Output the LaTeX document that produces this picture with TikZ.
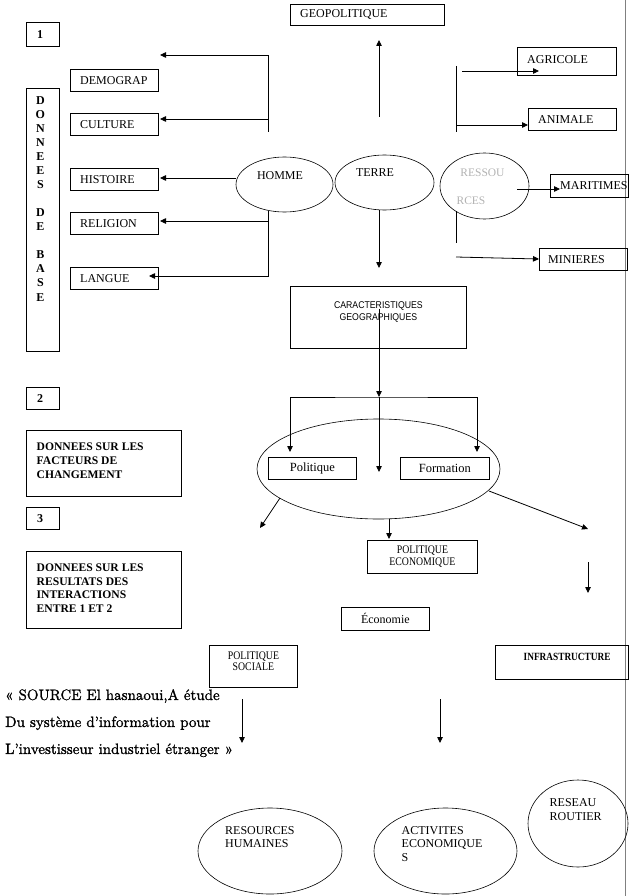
\documentclass[tikz,border=0pt]{standalone}
\usepackage{fontspec}
\newfontfamily\tnr{Liberation Serif}
\newfontfamily\tnrnarrow[FakeStretch=0.845]{Liberation Serif}
\newfontfamily\arialnarrow[FakeStretch=0.89]{Liberation Sans}
\newfontfamily\srcfont[FakeBold=1.2]{lmroman10-regular.otf}
\usetikzlibrary{arrows.meta,shapes.geometric}

\tikzset{
	every node/.style={font=\tnr\fontsize{12}{14}\selectfont},
	frame/.style={draw, rectangle, anchor=north west, inner sep=0pt, line width=0.8pt},
	ell/.style={draw, ellipse, inner sep=0pt, line width=0.6pt},
	intext/.style={anchor=west, inner sep=0pt, xshift=#1},
	intext/.default=10pt,
	toptext/.style={anchor=north west, inner sep=0pt, align=left},
	arr/.style={line width=0.8pt, -{Triangle[length=6pt,width=5.5pt]}},
	arrboth/.style={line width=0.8pt, {Triangle[length=6pt,width=5.5pt]}-{Triangle[length=6pt,width=5.5pt]}},
}

\begin{document}
\begin{tikzpicture}[x=1pt, y=-1pt]

	\useasboundingbox (0,0) rectangle (629,896);

	% ---- page edge

	\draw[gray, line width=0.8pt] (625.5,0) -- (625.5,896);

	% ---- section frames

	\node[frame, minimum width=33pt, minimum height=24pt,
		label={[intext=11pt, font=\tnr\bfseries\fontsize{12}{14}\selectfont]west:1}] (one) at (26,22) {};
	\node[frame, minimum width=33pt, minimum height=263pt,
		label={[anchor=north, inner sep=0pt, xshift=-2.5pt, yshift=-8pt, align=center,
			font=\tnr\bfseries\fontsize{12}{14.07}\selectfont]north:D\\O\\N\\N\\E\\E\\S\\[14.07pt]D\\E\\[14.07pt]B\\A\\S\\E}] (base) at (26,88) {};
	\node[frame, minimum width=33pt, minimum height=22pt,
		label={[intext=11pt, font=\tnr\bfseries\fontsize{12}{14}\selectfont]west:2}] (two) at (26,387) {};
	\node[frame, minimum width=154.5pt, minimum height=66pt,
		label={[toptext, xshift=10.5pt, yshift=-13pt, font=\tnr\bfseries\fontsize{11.6}{13.7}\selectfont]north west:DONNEES SUR LES\\FACTEURS DE\\CHANGEMENT}] (facteurs) at (26,430) {};
	\node[frame, minimum width=33pt, minimum height=22pt,
		label={[intext=11pt, font=\tnr\bfseries\fontsize{12}{14}\selectfont]west:3}] (three) at (26,507) {};
	\node[frame, minimum width=154.5pt, minimum height=77pt,
		label={[toptext, xshift=10.5pt, yshift=-12.7pt, font=\tnr\bfseries\fontsize{11.6}{13.7}\selectfont]north west:DONNEES SUR LES\\RESULTATS DES\\INTERACTIONS\\ENTRE 1 ET 2}] (resultats) at (26,551) {};

	% ---- homme side

	\node[frame, minimum width=88pt, minimum height=22pt, label={[intext]west:DEMOGRAP}] (demograp) at (70,69) {};
	\node[frame, minimum width=88pt, minimum height=22pt, label={[intext]west:CULTURE}] (culture) at (70,113) {};
	\node[frame, minimum width=88pt, minimum height=22pt, label={[intext]west:HISTOIRE}] (histoire) at (70,168) {};
	\node[frame, minimum width=88pt, minimum height=22pt, label={[intext]west:RELIGION}] (religion) at (70,212) {};
	\node[frame, minimum width=88pt, minimum height=22pt, label={[intext]west:LANGUE}] (langue) at (70,267) {};

	% ---- ressources side

	\node[frame, minimum width=154pt, minimum height=21pt, label={[intext]west:GEOPOLITIQUE}] (geopol) at (290,4) {};
	\node[frame, minimum width=99pt, minimum height=28pt, label={[intext, yshift=1.5pt]west:AGRICOLE}] (agricole) at (517,47) {};
	\node[frame, minimum width=88pt, minimum height=22pt, label={[intext]west:ANIMALE}] (animale) at (528,108) {};
	\node[frame, minimum width=78pt, minimum height=23pt, label={[intext]west:MARITIMES}] (maritimes) at (550,174) {};
	\node[frame, minimum width=88pt, minimum height=22pt, label={[intext=9pt]west:MINIERES}] (minieres) at (539,248) {};

	% ---- ellipses of the base

	\node[ell, minimum width=97pt, minimum height=55pt,
		label={[inner sep=0pt, xshift=-4.5pt, yshift=8.5pt]center:HOMME}] (homme) at (284.5,184.5) {};
	\node[ell, minimum width=99pt, minimum height=55pt,
		label={[inner sep=0pt, xshift=-9.5pt, yshift=10pt]center:TERRE}] (terre) at (384.5,182.5) {};
	\node[ell, minimum width=89pt, minimum height=66pt,
		label={[inner sep=0pt, xshift=-2pt, yshift=13pt, text=gray!60, font=\tnr\fontsize{11.5}{14}\selectfont]center:RESSOU},
		label={[inner sep=0pt, xshift=-13.5pt, yshift=-15pt, text=gray!60, font=\tnr\fontsize{11.5}{14}\selectfont]center:RCES}] (ressources) at (484.5,186) {};

	% ---- middle part

	\node[frame, minimum width=176pt, minimum height=62pt,
		label={[anchor=north, inner sep=0pt, yshift=-15pt, align=center, font=\arialnarrow\fontsize{9.8}{12}\selectfont]north:CARACTERISTIQUES\\GEOGRAPHIQUES}] (carac) at (290,286) {};

	\node[ell, minimum width=243pt, minimum height=100pt] (facteur) at (378.5,469) {};

	\node[frame, minimum width=88pt, minimum height=22pt, font=\tnr\fontsize{12.5}{14}\selectfont] (politique) at (268,457) {Politique};
	\node[frame, minimum width=89pt, minimum height=22pt, font=\tnr\fontsize{12.5}{14}\selectfont] (formation) at (400,457) {Formation};

	\node[frame, minimum width=110pt, minimum height=33pt, align=center,
		font=\tnrnarrow\fontsize{11.6}{12}\selectfont] (polecon) at (367,540) {POLITIQUE\\ECONOMIQUE};
	\node[frame, minimum width=88pt, minimum height=23pt] (economie) at (341,607) {Économie};
	\node[frame, minimum width=88pt, minimum height=42pt,
		label={[anchor=north, inner sep=0pt, yshift=-7pt, align=center, font=\tnrnarrow\fontsize{11.6}{10.7}\selectfont]north:POLITIQUE\\SOCIALE}] (polsoc) at (209,645) {};
	\node[frame, minimum width=133pt, minimum height=34pt,
		label={[toptext, xshift=28.5pt, yshift=-7.7pt, font=\tnrnarrow\bfseries\fontsize{11}{13}\selectfont]north west:INFRASTRUCTURE}] (infra) at (495,645) {};

	% ---- results

	\node[ell, minimum width=144pt, minimum height=86pt] (reshum) at (270,851) {};
	\node[ell, minimum width=143pt, minimum height=86pt] (activites) at (445.5,851) {};
	\node[ell, minimum width=100pt, minimum height=87pt] (reseau) at (578,823.5) {};

	\node[toptext, font=\tnr\fontsize{12}{13.5}\selectfont] (reshumtxt) at (225,826) {RESOURCES\\HUMAINES};
	\node[toptext, font=\tnr\fontsize{12}{13.5}\selectfont] (activtxt) at (401.5,826) {ACTIVITES\\ECONOMIQUE\\S};
	\node[toptext, font=\tnr\fontsize{12}{14}\selectfont] (reseautxt) at (549.5,798.7) {RESEAU\\ROUTIER};

	% ---- source

	\node[toptext, font=\srcfont\fontsize{15}{27}\selectfont] (source) at (5,689)
		{« SOURCE El hasnaoui,A étude\\Du système d’information pour\\L’investisseur industriel étranger »};

	% ---- connector ends

	\coordinate (hbarT) at (268,132);
	\coordinate (hbarS) at (268,210.5);
	\coordinate (hdem) at (160,55);
	\coordinate (hcul) at (160,119);
	\coordinate (hhis) at (160,178);
	\coordinate (hrel) at (160,221);
	\coordinate (hlan) at (149,276);

	\coordinate (tup1) at (379,117);
	\coordinate (tup2) at (379,40);
	\coordinate (tdown) at (379,268);

	\coordinate (rbarT) at (456,66);
	\coordinate (rbarB) at (456,132);
	\coordinate (ragr1) at (462,71);
	\coordinate (ragr2) at (539,71);
	\coordinate (rani) at (528,125);
	\coordinate (rmar1) at (517,189);
	\coordinate (rmar2) at (560,189);
	\coordinate (rbar2T) at (456,211.3);
	\coordinate (rbar2B) at (456,243);
	\coordinate (rmin1) at (456,257);
	\coordinate (rmin2) at (539,259);

	\coordinate (cstart) at (379,309);
	\coordinate (cmid) at (379,397);
	\coordinate (cend) at (379,472);
	\coordinate (brL) at (290,452);
	\coordinate (brR) at (477,452);

	\coordinate (fsw1) at (280,498);
	\coordinate (fsw2) at (260,528);
	\coordinate (fs1) at (389,519);
	\coordinate (fs2) at (389,539);
	\coordinate (fse1) at (489,491);
	\coordinate (fse2) at (588,529);
	\coordinate (inf1) at (588,562);
	\coordinate (inf2) at (588,593);
	\coordinate (soc1) at (242,699);
	\coordinate (soc2) at (242,743);
	\coordinate (eco1) at (440,699);
	\coordinate (eco2) at (440,743);

	% ---- arrows of the base

	\draw[arr] (hbarT) |- (hdem);
	\draw[arr] (hbarT |- hcul) -- (hcul);
	\draw[arr] (homme.west |- hhis) -- (hhis);
	\draw[arr] (hbarS) |- (hlan);
	\draw[arr] (hbarS |- hrel) -- (hrel);

	\draw[arr] (tup1) -- (tup2);
	\draw[arr] (terre.south -| tdown) -- (tdown);

	\draw[line width=0.8pt] (rbarT) -- (rbarB);
	\draw[arr] (ragr1) -- (ragr2);
	\draw[arr] (rbarB |- rani) -- (rani);
	\draw[arr] (rmar1) -- (rmar2);
	\draw[line width=0.8pt] (rbar2T) -- (rbar2B);
	\draw[arr] (rmin1) -- (rmin2);

	% ---- arrows of the changes

	\draw[arr] (cstart) -- (cmid);
	\draw[arr] (cmid) -- (cend);
	\draw[arrboth] (brL) |- (cmid) -| (brR);

	\draw[arr] (fsw1) -- (fsw2);
	\draw[arr] (fs1) -- (fs2);
	\draw[arr] (fse1) -- (fse2);
	\draw[arr] (inf1) -- (inf2);
	\draw[arr] (soc1) -- (soc2);
	\draw[arr] (eco1) -- (eco2);

\end{tikzpicture}
\end{document}
